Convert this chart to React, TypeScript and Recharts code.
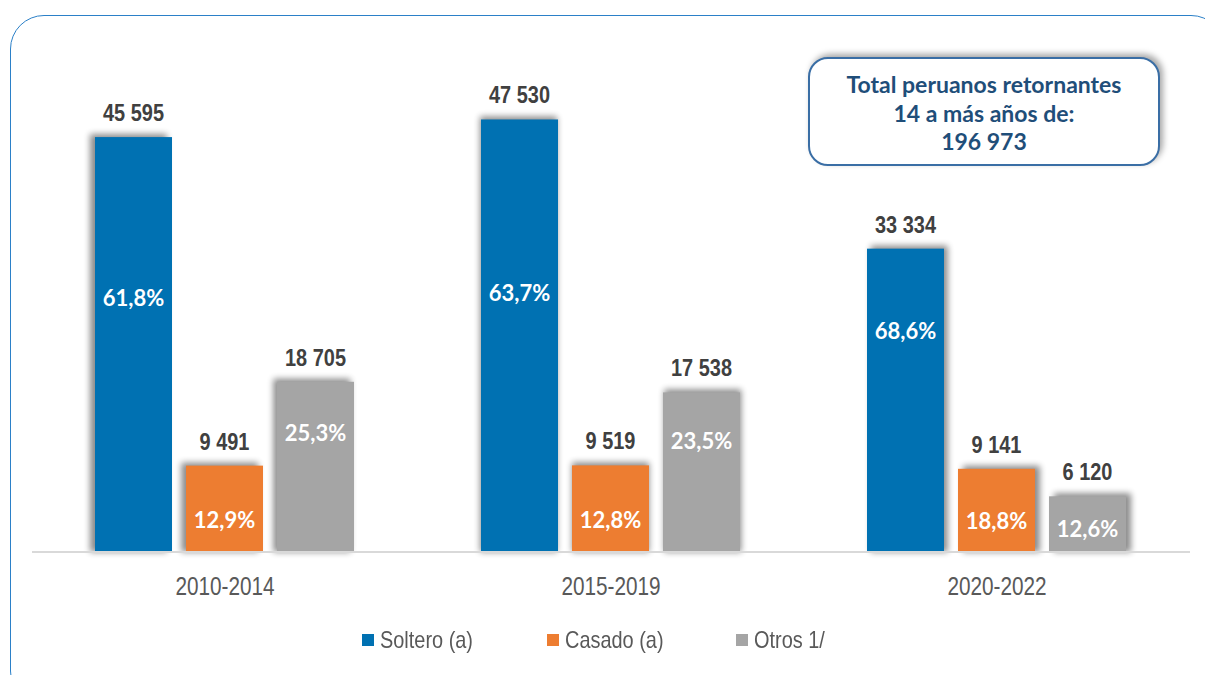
import { BarChart, Bar, XAxis, YAxis, Legend, LabelList } from 'recharts';

const periods = ['2010-2014', '2015-2019', '2020-2022'];
const soltero = [45595, 47530, 33334];
const casado = [9491, 9519, 9141];
const otros = [18705, 17538, 6120];
const solteroPct = [61.8, 63.7, 68.6];
const casadoPct = [12.9, 12.8, 18.8];
const otrosPct = [25.3, 23.5, 12.6];

const data = periods.map((p, i) => ({
  period: p,
  soltero: soltero[i],
  casado: casado[i],
  otros: otros[i],
  solteroPct: solteroPct[i],
  casadoPct: casadoPct[i],
  otrosPct: otrosPct[i],
}));

const series = [
  { key: 'soltero', name: 'Soltero (a)', color: '#0071b2', legendW: 185 },
  { key: 'casado', name: 'Casado (a)', color: '#ed7d31', legendW: 189 },
  { key: 'otros', name: 'Otros 1/', color: '#a5a5a5', legendW: 120 },
];

const ARIAL = "'Liberation Sans', Arial, sans-serif";
const SANS = "Lato, 'Open Sans', sans-serif";
const W = 1205;
const NARROW = 0.83; // no Arial Narrow here, squeeze Liberation Sans instead

const fmtNum = (v: any) => String(v).replace(/\B(?=(\d{3})+(?!\d))/g, ' ');
const fmtPct = (v: number) => v.toFixed(1).replace('.', ',') + '%';

// where the % label sits inside each bar (hand placed in the original)
const pctY: Record<string, (y: number, h: number) => number> = {
  soltero: (y, h) => y + h * 0.7 - 130,
  casado: (y, h) => y + h * 0.62,
  otros: (y, h) => y + Math.max(h * 0.3, 32),
};

const makePctLabel = (key: string) => (props: any) => {
  const { x, y, width, height, value } = props;
  return (
    <text
      x={x + width / 2}
      y={pctY[key](y, height)}
      textAnchor="middle"
      dominantBaseline="central"
      fill="#ffffff"
      fontFamily={SANS}
      fontWeight={700}
      fontSize={22}
    >
      {fmtPct(value)}
    </text>
  );
};

const ValueLabel = (props: any) => {
  const { x, y, width, value } = props;
  return (
    <text
      transform={`translate(${x + width / 2},${y - 16}) scale(${NARROW},1)`}
      textAnchor="middle"
      fill="#404040"
      fontFamily={ARIAL}
      fontWeight={700}
      fontSize={24}
    >
      {fmtNum(value)}
    </text>
  );
};

// soft shadow that leans away from the middle of the chart
const ShadowBar = (props: any) => {
  const { x, y, width, height, fill } = props;
  const dx = Math.max(-5, Math.min(5, (x + width / 2 - W / 2) / 80));
  return (
    <g>
      <rect x={x + dx} y={y - 3} width={width} height={height + 3} fill="#000" opacity={0.45} filter="url(#barBlur)" />
      <rect x={x} y={y} width={width} height={height} fill={fill} />
    </g>
  );
};

const LegendContent = () => (
  <div style={{ display: 'flex', paddingLeft: 330, alignItems: 'center', height: 40 }}>
    {series.map((s) => (
      <div key={s.key} style={{ display: 'flex', alignItems: 'center', width: s.legendW }}>
        <span style={{ width: 12, height: 12, background: s.color, display: 'inline-block', marginRight: 6, flex: 'none' }} />
        <span
          style={{
            fontFamily: ARIAL, fontSize: 24, color: '#595959', whiteSpace: 'nowrap',
            display: 'inline-block', transform: `scaleX(${NARROW})`, transformOrigin: 'left center',
          }}
        >
          {s.name}
        </span>
      </div>
    ))}
  </div>
);

const Tick = (props: any) => {
  const { x, y, payload } = props;
  return (
    <text
      transform={`translate(${x},${y}) scale(${NARROW},1)`}
      textAnchor="middle"
      dy="0.71em"
      fill="#595959"
      fontFamily={ARIAL}
      fontSize={25}
    >
      {payload.value}
    </text>
  );
};

export default function App() {
  return (
    <div style={{ position: 'fixed', left: 0, top: 0, width: W, height: 675, overflow: 'hidden', background: '#fff' }}>
      <div
        style={{
          position: 'absolute', left: 10, top: 15, width: 1215, height: 690,
          border: '1.5px solid #2b80c8', borderRadius: 34, boxSizing: 'border-box',
        }}
      />
      <div style={{ position: 'absolute', left: 0, top: 0 }}>
        <BarChart
          width={W}
          height={675}
          data={data}
          margin={{ top: 97, right: 15, left: 32, bottom: 15 }}
          barCategoryGap={63}
          barGap={14}
        >
          <defs>
            <filter id="barBlur" x="-30%" y="-20%" width="160%" height="140%">
              <feGaussianBlur stdDeviation={3} />
            </filter>
          </defs>
          <XAxis
            dataKey="period"
            height={68}
            tickLine={false}
            tickMargin={19}
            stroke="#d9d9d9"
            strokeWidth={2}
            tick={<Tick />}
          />
          <YAxis hide domain={[0, 50000]} />
          <Legend height={40} content={<LegendContent />} />
          {series.map((s) => (
            <Bar key={s.key} dataKey={s.key} name={s.name} fill={s.color} shape={ShadowBar} isAnimationActive={false}>
              <LabelList dataKey={s.key} content={ValueLabel} />
              <LabelList dataKey={s.key + 'Pct'} content={makePctLabel(s.key)} />
            </Bar>
          ))}
        </BarChart>
      </div>
      <div
        style={{
          position: 'absolute', left: 808, top: 57, width: 352, height: 109, boxSizing: 'border-box',
          border: '2px solid #3a6ea5', borderRadius: 20, background: '#fff',
          boxShadow: '3px -3px 6px rgba(0,0,0,0.35)', textAlign: 'center',
          fontFamily: SANS, fontWeight: 700, fontSize: 23, lineHeight: '28.5px', color: '#1f4e79', paddingTop: 11,
        }}
      >
        <div>Total peruanos retornantes</div>
        <div>14 a más años de:</div>
        <div>196 973</div>
      </div>
    </div>
  );
}
